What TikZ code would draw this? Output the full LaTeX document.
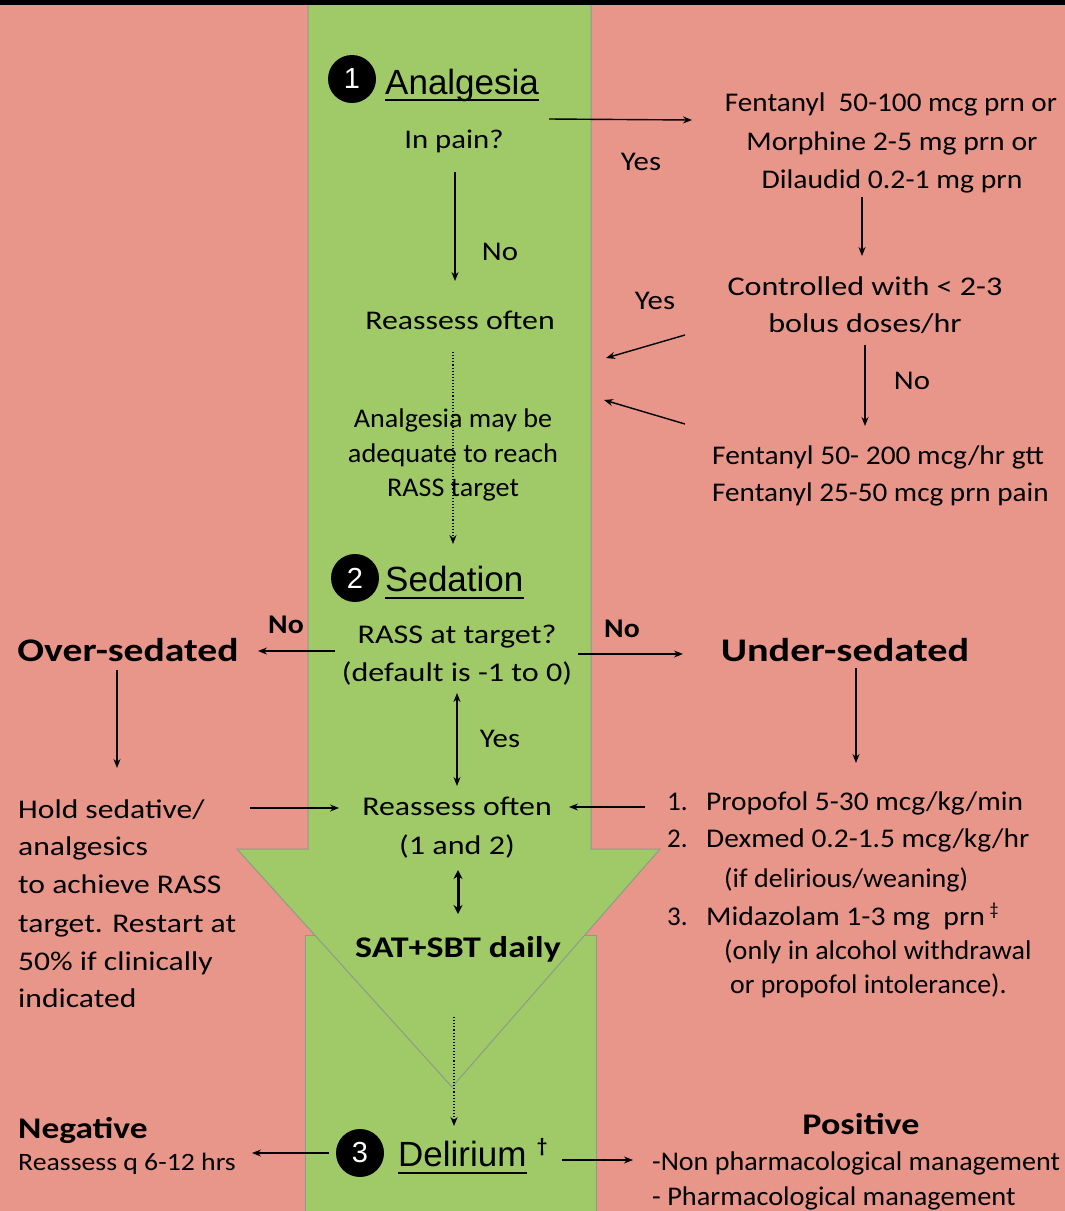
\documentclass[tikz,border=0pt]{standalone}
\usepackage{fontspec}
\usepackage{graphicx}
\setmainfont{Carlito}
\newfontfamily\headf{Liberation Sans}
\usetikzlibrary{arrows.meta}
\definecolor{salmon}{HTML}{E8968A}
\definecolor{grn}{HTML}{A0CA68}
\definecolor{edgec}{HTML}{8C9C88}
\newcommand\bodyf{\fontsize{27}{32}\selectfont}
\newcommand\bigbf{\fontsize{33}{38}\selectfont\bfseries}
\newcommand\midbf{\fontsize{30}{36}\selectfont\bfseries}
\newcommand\headfnt{\headf\fontsize{35}{40}\selectfont}
\newcommand\sx[2]{\scalebox{#1}[1]{#2}}
\begin{document}
\begin{tikzpicture}[x=1pt,y=-1pt,
  t/.style={inner sep=0pt, anchor=base, font=\bodyf},
  tl/.style={t, anchor=base west},
  circ/.style={circle, fill=black, text=white, inner sep=0pt, minimum size=48pt, font=\headf\fontsize{29}{30}\selectfont},
  head/.style={inner sep=0pt, anchor=base west, font=\headfnt},
  arr/.style={-{Stealth[length=9pt,width=7pt]}, line width=1.4pt},
  darr/.style={{Stealth[length=9pt,width=7pt]}-{Stealth[length=9pt,width=7pt]}, line width=1.4pt},
  dotarr/.style={-{Stealth[length=9pt,width=7pt]}, line width=1.1pt, dotted},
  uline/.style={line width=1.5pt}
]
\useasboundingbox (0,0) rectangle (1065,1211);
% background
\fill[salmon] (0,0) rectangle (1065,1211);
\filldraw[fill=grn, draw=edgec, line width=1pt] (305,935) rectangle (596,1216);
\filldraw[fill=grn, draw=edgec, line width=1pt] (308,2) -- (591,2) -- (591,849) -- (660,849) -- (452,1087) -- (237,849) -- (308,849) -- cycle;
\fill[black] (0,0) rectangle (1065,5);

% ---------- 1 Analgesia ----------
\node[circ] (c1) at (352,79) {1};
\node[head] (h1) at (385,94) {Analgesia};
\draw[uline] ([yshift=-6pt]h1.base west) -- ([yshift=-6pt]h1.base east);
\node[t] (inpain) at (454,148) {\sx{1.14}{In pain?}};
\node[t] (fen1) at (891,111) {\sx{1.08}{Fentanyl\ \ 50-100 mcg prn or}};
\node[t] (fen2) at (892,150) {\sx{1.1}{Morphine 2-5 mg prn or}};
\node[t] (fen3) at (892,188) {\sx{1.1}{Dilaudid 0.2-1 mg prn}};
\node[t] (yes1) at (641,170) {\sx{1.14}{Yes}};
\coordinate (a1s) at (549,119);
\coordinate (a1e) at (692,120);
\draw[arr] (a1s) -- (a1e);
\coordinate (a2s) at (455,172);
\coordinate (a2e) at (455,281);
\draw[arr] (a2s) -- (a2e);
\node[t] (no1) at (500,260) {\sx{1.14}{No}};
\node[t] (reass1) at (460,329) {\sx{1.18}{Reassess often}};
\coordinate (a3s) at (862,197);
\coordinate (a3e) at (862,256);
\draw[arr] (a3s) -- (a3e);
\node[t] (ctrl1) at (865,295) {\sx{1.19}{Controlled with < 2-3}};
\node[t] (ctrl2) at (865,332) {\sx{1.19}{bolus doses/hr}};
\node[t] (yes2) at (655,309) {\sx{1.14}{Yes}};
\coordinate (a4s) at (865,345);
\coordinate (a4e) at (865,426);
\draw[arr] (a4s) -- (a4e);
\node[t] (no2) at (912,389) {\sx{1.14}{No}};
\node[tl] (gtt1) at (712,464) {\sx{1.09}{Fentanyl 50- 200 mcg/hr gtt}};
\node[tl] (gtt2) at (712,501) {\sx{1.08}{Fentanyl 25-50 mcg prn pain}};
\coordinate (a5s) at (685,335);
\coordinate (a5e) at (606,358);
\draw[arr] (a5s) -- (a5e);
\coordinate (a6s) at (685,424);
\coordinate (a6e) at (604,400);
\draw[arr] (a6s) -- (a6e);
\coordinate (d1s) at (453,352);
\coordinate (d1e) at (453,544);
\draw[dotarr] (d1s) -- (d1e);
\node[t] (ad1) at (453,427) {\sx{1.04}{Analgesia may be}};
\node[t] (ad2) at (453,462) {\sx{1.05}{adequate to reach}};
\node[t] (ad3) at (453,496) {\sx{1.04}{RASS target}};

% ---------- 2 Sedation ----------
\node[circ] (c2) at (355,578) {2};
\node[head] (h2) at (385,591) {Sedation};
\draw[uline] ([yshift=-7pt]h2.base west) -- ([yshift=-7pt]h2.base east);
\node[t] (rass1) at (457,643) {\sx{1.19}{RASS at target?}};
\node[t] (rass2) at (457,681) {\sx{1.19}{(default is -1 to 0)}};
\node[t, font=\bodyf\bfseries] (no3) at (286,633) {\sx{1.1}{No}};
\node[t, font=\bodyf\bfseries] (no4) at (622,637) {\sx{1.1}{No}};
\node[t, font=\bigbf] (over) at (128,661) {\sx{1.2}{Over-sedated}};
\node[t, font=\bigbf] (under) at (845,661) {\sx{1.22}{Under-sedated}};
\coordinate (b1s) at (335,651);
\coordinate (b1e) at (258,651);
\draw[arr] (b1s) -- (b1e);
\coordinate (b2s) at (578,654);
\coordinate (b2e) at (683,654);
\draw[arr] (b2s) -- (b2e);
\coordinate (b3s) at (117,670);
\coordinate (b3e) at (117,768);
\draw[arr] (b3s) -- (b3e);
\coordinate (b4s) at (856,668);
\coordinate (b4e) at (856,763);
\draw[arr] (b4s) -- (b4e);
\coordinate (b5s) at (457,693);
\coordinate (b5e) at (457,786);
\draw[darr] (b5s) -- (b5e);
\node[t] (yes3) at (500,747) {\sx{1.14}{Yes}};
\node[t] (reass2) at (457,815) {\sx{1.18}{Reassess often}};
\node[t] (reass3) at (457,854) {\sx{1.19}{(1 and 2)}};
\coordinate (b6s) at (250,808);
\coordinate (b6e) at (339,808);
\draw[arr] (b6s) -- (b6e);
\coordinate (b7s) at (645,807);
\coordinate (b7e) at (569,807);
\draw[arr] (b7s) -- (b7e);
\coordinate (b8s) at (458,870);
\coordinate (b8e) at (458,914);
\draw[{Stealth[length=9pt,width=9pt]}-{Stealth[length=9pt,width=9pt]}, line width=3pt] (b8s) -- (b8e);
\node[t, font=\midbf] (sat) at (458,957) {\sx{1.2}{SAT+SBT daily}};
\coordinate (b9s) at (454,1017);
\coordinate (b9e) at (454,1126);
\draw[dotarr] (b9s) -- (b9e);

\node[tl] (hold1) at (18,818) {\sx{1.17}{Hold sedative/}};
\node[tl] (hold2) at (18,855) {\sx{1.17}{analgesics}};
\node[tl] (hold3) at (18,893) {\sx{1.17}{to achieve RASS}};
\node[tl] (hold4) at (18,932) {\sx{1.17}{target. Restart at}};
\node[tl] (hold5) at (18,970) {\sx{1.17}{50\% if clinically}};
\node[tl] (hold6) at (18,1007) {\sx{1.17}{indicated}};

\node[tl] (n1) at (667,810) {1.};
\node[tl] (l1) at (706,810) {\sx{1.09}{Propofol 5-30 mcg/kg/min}};
\node[tl] (n2) at (667,847) {2.};
\node[tl] (l2) at (706,847) {\sx{1.09}{Dexmed 0.2-1.5 mcg/kg/hr}};
\node[tl] (l2b) at (724,887) {\sx{1.04}{(if delirious/weaning)}};
\node[tl] (n3) at (667,925) {3.};
\node[tl] (l3) at (706,925) {\sx{1.1}{Midazolam 1-3 mg\ \ prn}\,\raisebox{0.35em}{\fontsize{18}{20}\selectfont ‡}};
\node[tl] (l3b) at (724,959) {\sx{1.04}{(only in alcohol withdrawal}};
\node[tl] (l3c) at (730,993) {\sx{1.03}{or propofol intolerance).}};

% ---------- 3 Delirium ----------
\node[circ] (c3) at (360,1153) {3};
\node[head] (h3) at (398,1166) {Delirium};
\draw[uline] ([yshift=-7pt]h3.base west) -- ([yshift=-7pt]h3.base east);
\node[inner sep=0pt, anchor=base west, font=\fontsize{20}{22}\selectfont\bfseries] (dag) at (537,1152) {†};
\coordinate (e1s) at (329,1153);
\coordinate (e1e) at (252,1153);
\draw[arr] (e1s) -- (e1e);
\coordinate (e2s) at (562,1160);
\coordinate (e2e) at (633,1160);
\draw[arr] (e2s) -- (e2e);
\node[tl, font=\midbf] (neg) at (18,1138) {\sx{1.18}{Negative}};
\node[tl, font=\fontsize{25}{30}\selectfont] (neg2) at (18,1170) {\sx{1.11}{Reassess q 6-12 hrs}};
\node[t, font=\midbf] (pos) at (861,1134) {\sx{1.2}{Positive}};
\node[tl] (pos1) at (652,1170) {\sx{1.04}{-Non pharmacological management}};
\node[tl] (pos2) at (652,1205) {\sx{1.05}{- Pharmacological management}};
\end{tikzpicture}
\end{document}
